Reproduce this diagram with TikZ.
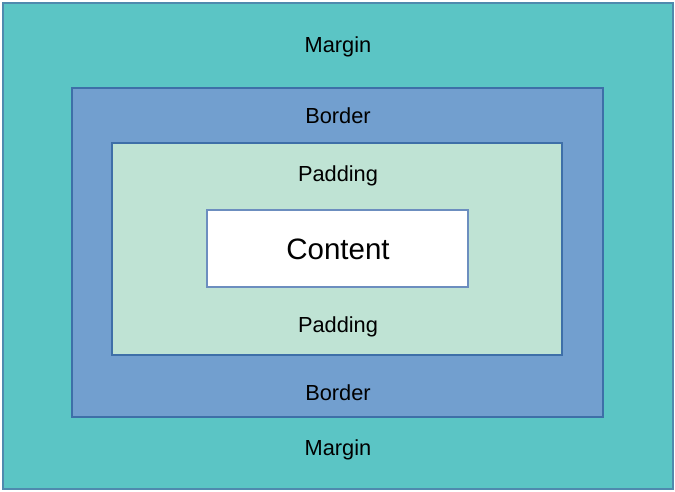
\documentclass[tikz,border=0pt]{standalone}
\usepackage{fontspec}
\setmainfont{Liberation Sans}
\definecolor{margincol}{HTML}{5BC5C5}
\definecolor{bordercol}{HTML}{729FCF}
\definecolor{paddingcol}{HTML}{BFE3D4}
\definecolor{edgecol}{HTML}{3E6FA8}
\definecolor{outeredge}{HTML}{4F8AAE}
\definecolor{contentedge}{HTML}{6C8EBF}
\tikzset{
  box/.style={draw=edgecol, line width=1.2pt},
  lbl/.style={font=\fontsize{21.8}{25}\selectfont, text=black, inner sep=0pt, anchor=center},
  clbl/.style={font=\fontsize{29.5}{34}\selectfont, text=black, inner sep=0pt, anchor=center}
}
\begin{document}
\begin{tikzpicture}[x=1pt,y=-1pt]
\useasboundingbox (0,0) rectangle (675,492);
\fill[white] (0,0) rectangle (675,492);
\filldraw[box, fill=margincol, draw=outeredge] (3,3) rectangle (673,489);
\filldraw[box, fill=bordercol] (72,88) rectangle (603,417);
\filldraw[box, fill=paddingcol] (112,143) rectangle (562,355);
\filldraw[box, fill=white, draw=contentedge] (207,210) rectangle (468,287);
\node[lbl] (m1) at (338,46.5) {Margin};
\node[lbl] (m2) at (338,449.5) {Margin};
\node[lbl] (b1) at (338,115.5) {Border};
\node[lbl] (b2) at (338,392.5) {Border};
\node[lbl] (p1) at (338,175.5) {Padding};
\node[lbl] (p2) at (338,326.5) {Padding};
\node[clbl] (c) at (338,249) {Content};
\end{tikzpicture}
\end{document}
